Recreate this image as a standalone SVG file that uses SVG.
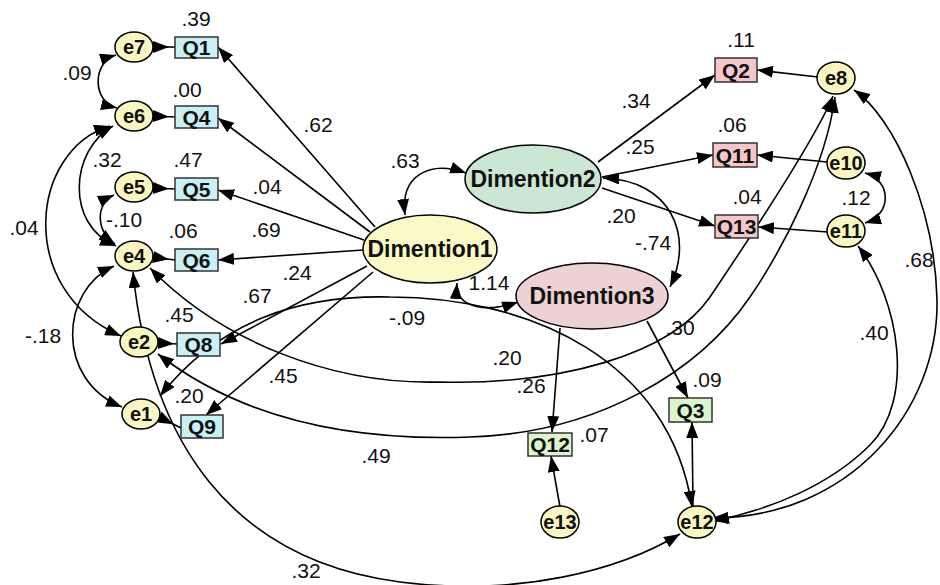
<svg xmlns="http://www.w3.org/2000/svg" width="940" height="585" viewBox="0 0 940 585">
<style>
.c{fill:none;stroke:#000;stroke-width:1.6}
.e{fill:#f9f6c2;stroke:#000;stroke-width:1.5}
.qb{fill:#c9f0f5;stroke:#333;stroke-width:1.5}
.qp{fill:#f5c6ca;stroke:#333;stroke-width:1.5}
.qg{fill:#dcf5cc;stroke:#333;stroke-width:1.5}
.t{font-family:"Liberation Sans",Arial,sans-serif;font-weight:bold;font-size:20px;text-anchor:middle;fill:#111}
.q{font-family:"Liberation Sans",Arial,sans-serif;font-weight:bold;font-size:21px;text-anchor:middle;fill:#111}
.d{font-family:"Liberation Sans",Arial,sans-serif;font-weight:bold;font-size:23px;text-anchor:middle;fill:#111}
.n{font-family:"Liberation Sans",Arial,sans-serif;font-size:21px;text-anchor:middle;fill:#111}
</style>
<defs>
<marker id="a" markerUnits="userSpaceOnUse" markerWidth="16" markerHeight="12" viewBox="0 0 16 12" refX="16" refY="6" orient="auto-start-reverse"><path d="M0,0 L16,6 L0,12 z" fill="#000"/></marker>
<marker id="b" markerUnits="userSpaceOnUse" markerWidth="16" markerHeight="12" viewBox="0 0 16 12" refX="0" refY="6" orient="auto"><path d="M0,0 L16,6 L0,12 z" fill="#000"/></marker>
</defs>
<g id="connectors">
<path class="c" d="M375,227 L218,47" marker-end="url(#a)"/>
<path class="c" d="M370,232 L218,118" marker-end="url(#a)"/>
<path class="c" d="M364,240 L218,190" marker-end="url(#a)"/>
<path class="c" d="M363,250 L218,260" marker-end="url(#a)"/>
<path class="c" d="M367,266 L221,344" marker-end="url(#a)"/>
<path class="c" d="M373,272 L206,415" marker-end="url(#a)"/>
<path class="c" d="M598,162 L715,75" marker-end="url(#a)"/>
<path class="c" d="M602,177 L713,155" marker-end="url(#a)"/>
<path class="c" d="M602,188 L715,226" marker-end="url(#a)"/>
<path class="c" d="M560,328 L552,432" marker-end="url(#a)"/>
<path class="c" d="M647,321 L688,398" marker-end="url(#a)"/>
<path class="c" d="M818,77 L757,70" marker-end="url(#a)"/>
<path class="c" d="M827,162 L757,155" marker-end="url(#a)"/>
<path class="c" d="M828,232 L758,227" marker-end="url(#a)"/>
<path class="c" d="M560,507 L551,456" marker-end="url(#a)"/>
<path class="c" d="M693,506 L692,422" marker-end="url(#a)"/>
<path class="c" d="M153,47 L175,47" marker-start="url(#b)"/>
<path class="c" d="M153,116 L175,117" marker-start="url(#b)"/>
<path class="c" d="M153,188 L175,189" marker-start="url(#b)"/>
<path class="c" d="M153,257 L175,260" marker-start="url(#b)"/>
<path class="c" d="M158,343 L178,344" marker-start="url(#b)"/>
<path class="c" d="M159,417 L181,428" marker-start="url(#b)"/>
<path class="c" d="M116,55 C92,62 92,102 117,108" marker-start="url(#a)" marker-end="url(#a)"/>
<path class="c" d="M113,126 C70,150 65,225 116,246" marker-start="url(#a)" marker-end="url(#a)"/>
<path class="c" d="M110,126 C30,150 15,290 121,336" marker-start="url(#a)" marker-end="url(#a)"/>
<path class="c" d="M114,195 C96,203 95,230 115,244" marker-start="url(#a)" marker-end="url(#a)"/>
<path class="c" d="M114,266 C60,290 55,380 122,407" marker-start="url(#a)" marker-end="url(#a)"/>
<path class="c" d="M865,173 C892,180 892,215 865,223" marker-start="url(#a)" marker-end="url(#a)"/>
<path class="c" d="M405,215 C400,175 430,160 466,173" marker-start="url(#a)" marker-end="url(#a)"/>
<path class="c" d="M457,283 C455,310 490,312 518,302" marker-start="url(#a)" marker-end="url(#a)"/>
<path class="c" d="M603,178 C670,180 695,235 670,287" marker-start="url(#a)" marker-end="url(#a)"/>
<path class="c" d="M854,90 C895,118 935,210 937,300 C939,410 850,518 712,518" marker-start="url(#a)" marker-end="url(#a)"/>
<path class="c" d="M858,246 C900,300 915,400 870,445 C830,485 770,510 713,521" marker-start="url(#a)" marker-end="url(#a)"/>
<path class="c" d="M133,272 C150,440 230,560 400,582 C520,597 620,570 680,534" marker-start="url(#a)" marker-end="url(#a)"/>
<path class="c" d="M160,396 C220,320 300,295 390,297 C530,297 670,360 692,507" marker-start="url(#a)" marker-end="url(#a)"/>
<path class="c" d="M150,268 C220,340 330,385 440,382 C560,385 670,355 710,297 C745,245 815,140 833,96" marker-start="url(#a)" marker-end="url(#a)"/>
<path class="c" d="M158,354 C230,410 330,442 470,437 C600,433 700,370 750,297 C780,253 825,170 835,97" marker-start="url(#a)" marker-end="url(#a)"/>
</g>
<g id="D1"><ellipse cx="430" cy="249" rx="67" ry="34" fill="#fcf9c9" stroke="#000" stroke-width="1.5"/><text class="d" x="430" y="257">Dimention1</text></g>
<g id="D2"><ellipse cx="533" cy="179" rx="68" ry="34" fill="#cbe6d3" stroke="#000" stroke-width="1.5"/><text class="d" x="533" y="187">Dimention2</text></g>
<g id="D3"><ellipse cx="592" cy="296" rx="76" ry="33" fill="#ecd2d2" stroke="#000" stroke-width="1.5"/><text class="d" x="592" y="304">Dimention3</text></g>
<g id="Q1"><rect class="qb" x="175" y="37" width="43" height="21"/><text class="q" x="196.5" y="55">Q1</text></g>
<g id="Q4"><rect class="qb" x="175" y="106" width="43" height="22"/><text class="q" x="196.5" y="124.5">Q4</text></g>
<g id="Q5"><rect class="qb" x="175" y="178" width="43" height="22"/><text class="q" x="196.5" y="196.5">Q5</text></g>
<g id="Q6"><rect class="qb" x="175" y="249" width="43" height="22"/><text class="q" x="196.5" y="267.5">Q6</text></g>
<g id="Q8"><rect class="qb" x="177" y="333" width="43" height="23"/><text class="q" x="198.5" y="352">Q8</text></g>
<g id="Q9"><rect class="qb" x="181" y="415" width="42" height="23"/><text class="q" x="202" y="434">Q9</text></g>
<g id="Q2"><rect class="qp" x="715" y="58" width="42" height="24"/><text class="q" x="736" y="77.5">Q2</text></g>
<g id="Q11"><rect class="qp" x="713" y="143" width="44" height="24"/><text class="q" x="735" y="162.5">Q11</text></g>
<g id="Q13"><rect class="qp" x="715" y="215" width="43" height="23"/><text class="q" x="736.5" y="234">Q13</text></g>
<g id="Q12"><rect class="qg" x="528" y="433" width="44" height="23"/><text class="q" x="550" y="452">Q12</text></g>
<g id="Q3"><rect class="qg" x="669" y="398" width="43" height="24"/><text class="q" x="690.5" y="417.5">Q3</text></g>
<g id="e7"><ellipse class="e" cx="134" cy="47" rx="19" ry="15"/><text class="t" x="134" y="54">e7</text></g>
<g id="e6"><ellipse class="e" cx="134" cy="116" rx="19" ry="15"/><text class="t" x="134" y="123">e6</text></g>
<g id="e5"><ellipse class="e" cx="134" cy="187" rx="19" ry="15"/><text class="t" x="134" y="194">e5</text></g>
<g id="e4"><ellipse class="e" cx="134" cy="256" rx="19" ry="15"/><text class="t" x="134" y="263">e4</text></g>
<g id="e2"><ellipse class="e" cx="139" cy="342" rx="19" ry="15"/><text class="t" x="139" y="349">e2</text></g>
<g id="e1"><ellipse class="e" cx="141" cy="414" rx="19" ry="15"/><text class="t" x="141" y="421">e1</text></g>
<g id="e8"><ellipse class="e" cx="836" cy="78" rx="19" ry="16"/><text class="t" x="836" y="85">e8</text></g>
<g id="e10"><ellipse class="e" cx="846" cy="163" rx="19" ry="16"/><text class="t" x="846" y="170">e10</text></g>
<g id="e11"><ellipse class="e" cx="846" cy="231" rx="19" ry="16"/><text class="t" x="846" y="238">e11</text></g>
<g id="e13"><ellipse class="e" cx="560" cy="522" rx="19" ry="16"/><text class="t" x="560" y="529">e13</text></g>
<g id="e12"><ellipse class="e" cx="697" cy="522" rx="19" ry="16"/><text class="t" x="697" y="529">e12</text></g>
<g id="labels">
<text class="n" x="196" y="26">.39</text>
<text class="n" x="77" y="80">.09</text>
<text class="n" x="187" y="97">.00</text>
<text class="n" x="107" y="167">.32</text>
<text class="n" x="188" y="167">.47</text>
<text class="n" x="267" y="194">.04</text>
<text class="n" x="124" y="227">-.10</text>
<text class="n" x="318" y="132">.62</text>
<text class="n" x="24" y="235">.04</text>
<text class="n" x="183" y="238">.06</text>
<text class="n" x="266" y="237">.69</text>
<text class="n" x="297" y="280">.24</text>
<text class="n" x="257" y="303">.67</text>
<text class="n" x="179" y="322">.45</text>
<text class="n" x="43" y="343">-.18</text>
<text class="n" x="283" y="383">.45</text>
<text class="n" x="189" y="403">.20</text>
<text class="n" x="405" y="168">.63</text>
<text class="n" x="636" y="108">.34</text>
<text class="n" x="640" y="154">.25</text>
<text class="n" x="621" y="223">.20</text>
<text class="n" x="653" y="250">-.74</text>
<text class="n" x="489" y="290">1.14</text>
<text class="n" x="741" y="47">.11</text>
<text class="n" x="732" y="132">.06</text>
<text class="n" x="747" y="204">.04</text>
<text class="n" x="856" y="205">.12</text>
<text class="n" x="919" y="267">.68</text>
<text class="n" x="874" y="340">.40</text>
<text class="n" x="407" y="325">-.09</text>
<text class="n" x="680" y="335">.30</text>
<text class="n" x="507" y="365">.20</text>
<text class="n" x="531" y="393">.26</text>
<text class="n" x="707" y="387">.09</text>
<text class="n" x="594" y="442">.07</text>
<text class="n" x="376" y="463">.49</text>
<text class="n" x="306" y="578">.32</text>
</g>
</svg>
